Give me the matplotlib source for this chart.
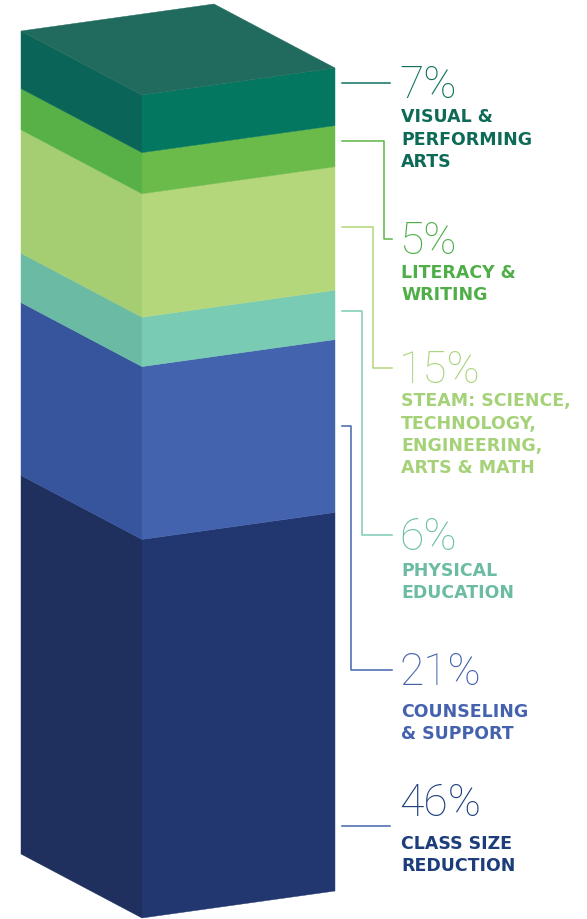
import matplotlib.pyplot as plt
from matplotlib.patches import Polygon

# data, bottom segment first
categories = ["CLASS SIZE\nREDUCTION", "COUNSELING\n& SUPPORT", "PHYSICAL\nEDUCATION",
              "STEAM: SCIENCE,\nTECHNOLOGY,\nENGINEERING,\nARTS & MATH",
              "LITERACY &\nWRITING", "VISUAL &\nPERFORMING\nARTS"]
shares = [46, 21, 6, 15, 5, 7]
pct_labels = ["46%", "21%", "6%", "15%", "5%", "7%"]

# colours per segment: left face, front face, text
left_cols = ['#1F2F5E', '#37559D', '#6BBBA4', '#A5CD72', '#57B146', '#0A6558']
front_cols = ['#22376F', '#4463AE', '#79CBB3', '#B5D77B', '#6BBB4B', '#03775F']
line_cols = ['#4464AE', '#4464AE', '#7CCBB5', '#B2D67C', '#5DB548', '#0E7460']
pct_cols = ['#1E3F7D', '#4462AD', '#6DBFA6', '#A9D57C', '#4DAE4A', '#12715E']
lab_cols = ['#1C3D7A', '#4462AD', '#6CBCA4', '#A5D278', '#4FAE47', '#0D6A56']
top_col = '#216B5E'

# box geometry in pixels (y grows downward)
x_left, x_front, x_right = 21, 142, 335
dy_left, dy_right = 64, 27
y_base, y_top = 919, 96

# leader layout: anchor y on the box, elbow x, label baseline y
anchor_y = [827, 427, 312, 228, 142, 84]
elbow_x = [None, 351, 362, 373, 384, None]
pct_base = [816, 685, 550, 383, 254, 98]
lab_base = [850, 718, 577, 409, 279, 124]
line_gap = 21.5

fig = plt.figure(figsize=(5.87, 9.20), dpi=100)
ax = fig.add_axes([0, 0, 1, 1])
ax.set_xlim(0, 587)
ax.set_ylim(920, 0)
ax.axis('off')

scale = (y_base - y_top) / sum(shares)
yb = y_base
for i, v in enumerate(shares):
    yt = yb - v * scale
    ax.add_patch(Polygon([(x_left, yb - dy_left), (x_front, yb), (x_front, yt), (x_left, yt - dy_left)],
                         closed=True, facecolor=left_cols[i], edgecolor=left_cols[i], lw=0.3))
    ax.add_patch(Polygon([(x_front, yb), (x_right, yb - dy_right), (x_right, yt - dy_right), (x_front, yt)],
                         closed=True, facecolor=front_cols[i], edgecolor=front_cols[i], lw=0.3))
    yb = yt

# top face
ax.add_patch(Polygon([(x_left, y_top - dy_left), (x_front, y_top), (x_right, y_top - dy_right),
                      (x_left + x_right - x_front, y_top - dy_left - dy_right)],
                     closed=True, facecolor=top_col, edgecolor=top_col, lw=0.3))

# leader lines and labels
for i in range(len(shares)):
    x0 = x_right + 7
    if elbow_x[i] is None:
        ax.plot([x0, 390], [anchor_y[i], anchor_y[i]], color=line_cols[i], lw=1.1)
    else:
        ax.plot([x0, elbow_x[i], elbow_x[i], 392],
                [anchor_y[i], anchor_y[i], pct_base[i] - 14, pct_base[i] - 14],
                color=line_cols[i], lw=1.1)
    ax.text(399, pct_base[i], pct_labels[i], color=pct_cols[i], fontsize=32,
            family=['Roboto', 'DejaVu Sans'], weight='light', va='baseline', ha='left')
    # multiline baseline alignment uses the last line
    n = categories[i].count('\n')
    ax.text(401, lab_base[i] + n * line_gap, categories[i], color=lab_cols[i], fontsize=12.5,
            family='DejaVu Sans', weight='bold', va='baseline', ha='left', linespacing=1.32)

fig.savefig('out.png', dpi=100)
